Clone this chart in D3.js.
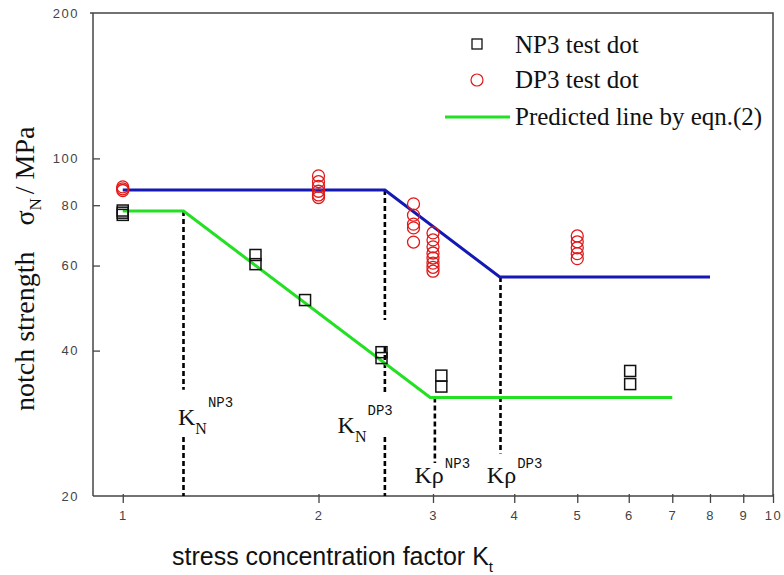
<!DOCTYPE html>
<html>
<head>
<meta charset="utf-8">
<script src="https://cdn.jsdelivr.net/npm/d3@7"></script>
<style>
  body { margin: 0; background: #fff; }
  svg { display: block; }
  .tick text { font-family: "Liberation Sans", Arial, sans-serif; font-size: 13px; fill: #444; letter-spacing: 1.5px; }
</style>
</head>
<body>
<svg id="chart" width="784" height="575"></svg>
<script>
// test data (Kt, notch strength MPa)
const np3Kt = [1, 1, 1, 1.6, 1.6, 1.907, 2.5, 2.5, 3.09, 3.09, 6.03, 6.03];
const np3Sn = [78, 77.2, 76.4, 63.1, 60.4, 50.9, 39.7, 38.6, 35.5, 33.7, 36.3, 34.1];

const dp3Kt = [1, 1, 1,
  2, 2, 2, 2, 2, 2,
  2.8, 2.8, 2.8, 2.8, 2.8,
  3.0, 3.0, 3.0, 3.0, 3.0, 3.0, 3.0, 3.0,
  5, 5, 5, 5, 5];
const dp3Sn = [87.3, 86.5, 85.8,
  92, 89.5, 87.5, 85.5, 84, 83,
  80.5, 76.3, 73.1, 71.8, 67.1,
  70.1, 67.8, 65.6, 63.7, 62.2, 60.7, 59.5, 58.4,
  69.1, 67.2, 65.3, 63.5, 62.0];

// predicted lines
const dpLineKt = [1, 2.53, 3.8, 8];
const dpLineSn = [86, 86, 56.8, 56.8];
const npLineKt = [1, 1.24, 2.97, 7];
const npLineSn = [77.8, 77.8, 32, 32];

// dashed marker lines: [Kt, from, to]
const dashSegs = [
  [1.24, 77.8, 33.2], [1.24, 26.5, 20],
  [2.53, 86, 46.3], [2.53, 40.7, 32.7], [2.53, 26.5, 20],
  [3.02, 32, 23.4],
  [3.81, 56.8, 24.5]
];

// annotation labels
const annoKt = [1.216, 2.14, 2.81, 3.63];
const annoSn = [28.05, 27.0, 21.3, 21.3];
const annoMain = ["K", "K", "K\u03C1", "K\u03C1"];
const annoSub = ["N", "N", "", ""];
const annoSup = ["NP3", "DP3", "NP3", "DP3"];

const xTicks = [1, 2, 3, 4, 5, 6, 7, 8, 9, 10];
const yTicks = [20, 40, 60, 80, 100, 200];

const svg = d3.select("svg#chart");
const x = d3.scaleLog().domain([0.9, 10]).range([93, 773]);
const y = d3.scaleLog().domain([20, 200]).range([496, 13]);

// frame (top and right)
svg.append("path")
  .attr("d", `M${x(0.9) - 3},${y(200)}H${x(10)}V${y(20)}`)
  .attr("fill", "none").attr("stroke", "#444").attr("stroke-width", 1.5);

// axes
const xAxis = d3.axisBottom(x).tickValues(xTicks).tickFormat(d3.format("d")).tickSize(7).tickPadding(8);
const gx = svg.append("g").attr("transform", translate(0, y(20))).call(xAxis);
gx.select(".domain").attr("stroke", "#444").attr("stroke-width", 1.5).attr("d", `M${x(0.9)},0H${x(10)}`);
gx.selectAll(".tick line").attr("stroke", "#444").attr("stroke-width", 1.3).attr("y1", -2);

const yAxis = d3.axisLeft(y).tickValues(yTicks).tickFormat(d3.format("d")).tickSize(8).tickPadding(6);
const gy = svg.append("g").attr("transform", translate(x(0.9), 0)).call(yAxis);
gy.select(".domain").attr("stroke", "#444").attr("stroke-width", 1.5).attr("d", `M0,${y(200)}V${y(20)}`);
gy.selectAll(".tick line").attr("stroke", "#444").attr("stroke-width", 1.3).attr("x2", d => (d === 20 || d === 200) ? 0 : 7);

// dashed lines
svg.append("g").selectAll("line").data(dashSegs).enter().append("line")
  .attr("x1", d => x(d[0])).attr("x2", d => x(d[0]))
  .attr("y1", d => y(d[1])).attr("y2", d => y(d[2]))
  .attr("stroke", "#000").attr("stroke-width", 2.6).attr("stroke-dasharray", "5,3");

// predicted lines
const line = d3.line().x(d => x(d[0])).y(d => y(d[1]));
svg.append("path").datum(dpLineKt.map((k, i) => [k, dpLineSn[i]]))
  .attr("d", line).attr("fill", "none").attr("stroke", "#1418b4").attr("stroke-width", 3);
svg.append("path").datum(npLineKt.map((k, i) => [k, npLineSn[i]]))
  .attr("d", line).attr("fill", "none").attr("stroke", "#22e022").attr("stroke-width", 3);

// test dots
svg.append("g").selectAll("circle").data(dp3Kt.map((k, i) => [k, dp3Sn[i]])).enter().append("circle")
  .attr("cx", d => x(d[0])).attr("cy", d => y(d[1])).attr("r", 6)
  .attr("fill", "none").attr("stroke", "#e01818").attr("stroke-width", 1.3);
svg.append("g").selectAll("rect").data(np3Kt.map((k, i) => [k, np3Sn[i]])).enter().append("rect")
  .attr("x", d => x(d[0]) - 5.5).attr("y", d => y(d[1]) - 5.5).attr("width", 11).attr("height", 11)
  .attr("fill", "none").attr("stroke", "#111").attr("stroke-width", 1.5);

// annotations
const anno = svg.append("g").selectAll("text").data(annoMain).enter().append("text")
  .attr("x", (d, i) => x(annoKt[i])).attr("y", (d, i) => y(annoSn[i]))
  .attr("font-family", "Liberation Serif, Times New Roman, serif").attr("font-size", 24).attr("fill", "#111");
anno.append("tspan").text(d => d);
anno.append("tspan").attr("font-size", 16).attr("dy", 9).text((d, i) => annoSub[i]);
anno.append("tspan").attr("font-family", "Liberation Mono, Courier New, monospace").attr("font-size", 14)
  .attr("dx", 1).attr("dy", (d, i) => annoSub[i] ? -27 : -15).text((d, i) => annoSup[i]);

// legend
const lg = svg.append("g").attr("font-family", "Liberation Serif, Times New Roman, serif").attr("font-size", 25).attr("fill", "#111");
lg.append("rect").attr("x", 472).attr("y", 39).attr("width", 10).attr("height", 10)
  .attr("fill", "none").attr("stroke", "#111").attr("stroke-width", 1.3);
lg.append("text").attr("x", 515).attr("y", 53).text("NP3 test dot");
lg.append("circle").attr("cx", 477).attr("cy", 80).attr("r", 6).attr("fill", "none").attr("stroke", "#e01818").attr("stroke-width", 1.2);
lg.append("text").attr("x", 515).attr("y", 88).text("DP3 test dot");
lg.append("line").attr("x1", 445).attr("x2", 510).attr("y1", 117).attr("y2", 117).attr("stroke", "#22e022").attr("stroke-width", 3);
lg.append("text").attr("x", 515).attr("y", 125).text("Predicted line by eqn.(2)");

// axis titles
const xt = svg.append("text").attr("x", 172).attr("y", 565)
  .attr("font-family", "Liberation Sans, Arial, sans-serif").attr("font-size", 25).attr("fill", "#111");
xt.append("tspan").text("stress concentration factor K");
xt.append("tspan").attr("font-size", 15).attr("dy", 7).text("t");

const yt = svg.append("text").attr("transform", translate(34, 411) + " rotate(-90)")
  .attr("font-family", "Liberation Serif, Times New Roman, serif").attr("font-size", 28).attr("fill", "#111");
yt.append("tspan").text("notch strength");
yt.append("tspan").attr("dx", 26).text("\u03C3");
yt.append("tspan").attr("font-size", 17).attr("dy", 7).text("N");
yt.append("tspan").attr("dx", 4).attr("dy", -7).text("/ MPa");

function translate(x, y) {
  return "translate(" + String(x) + "," + String(y) + ")";
}
</script>
</body>
</html>
